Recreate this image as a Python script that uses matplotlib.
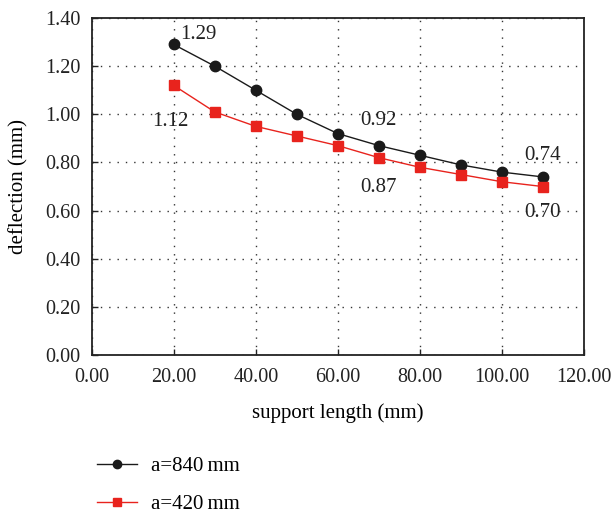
import matplotlib.pyplot as plt

# deflection vs support length for two load positions
support_len = [20, 30, 40, 50, 60, 70, 80, 90, 100, 110]
defl_840 = [1.29, 1.20, 1.10, 1.00, 0.92, 0.87, 0.83, 0.79, 0.76, 0.74]
defl_420 = [1.12, 1.01, 0.95, 0.91, 0.87, 0.82, 0.78, 0.75, 0.72, 0.70]

# value labels: (text, x, y)
notes = [("1.29", 26.1, 1.333), ("1.12", 19.3, 0.972),
         ("0.92", 70.0, 0.976), ("0.87", 69.8, 0.698),
         ("0.74", 109.8, 0.831), ("0.70", 109.8, 0.594)]

plt.rcParams['font.family'] = ['Liberation Serif', 'DejaVu Serif']
plt.rcParams['font.size'] = 14.5

fig = plt.figure(figsize=(6.11, 5.14), dpi=100)
ax = fig.add_axes([0.150, 0.309, 0.806, 0.656])

ax.plot(support_len, defl_840, color='#1a1a1a', lw=1.0, marker='o', ms=7.5,
        label='a=840\u2009mm')
ax.plot(support_len, defl_420, color='#e8231d', lw=1.0, marker='s', ms=7.5,
        label='a=420\u2009mm')

for txt, x, y in notes:
    ax.text(x, y, txt, ha='center', va='center', color='#222222', fontsize=15)

ax.set_xlim(0, 120)
ax.set_ylim(0, 1.4)
ax.set_xticks(range(0, 121, 20))
ax.set_xticklabels(['%.2f' % v for v in range(0, 121, 20)])
ax.set_yticks([i * 0.2 for i in range(8)])
ax.set_yticklabels(['%.2f' % (i * 0.2) for i in range(8)])
ax.tick_params(direction='in', length=4, width=1, colors='#222222')
ax.tick_params(axis='y', pad=8)
ax.tick_params(axis='x', pad=9)
ax.grid(True, linestyle=(0, (1, 5)), color='#333333', lw=1.0)
for s in ax.spines.values():
    s.set_linewidth(1.3)
    s.set_color('#222222')

ax.set_xlabel('support length (mm)', fontsize=15, labelpad=12)
ax.set_ylabel('deflection (mm)', fontsize=15, labelpad=12)

fig.legend(loc='upper left', bbox_to_anchor=(0.145, 0.128), frameon=False,
           handlelength=1.9, handletextpad=0.7, labelspacing=0.9,
           markerscale=0.8, fontsize=15, borderaxespad=0)

fig.savefig('out.png', dpi=100)
